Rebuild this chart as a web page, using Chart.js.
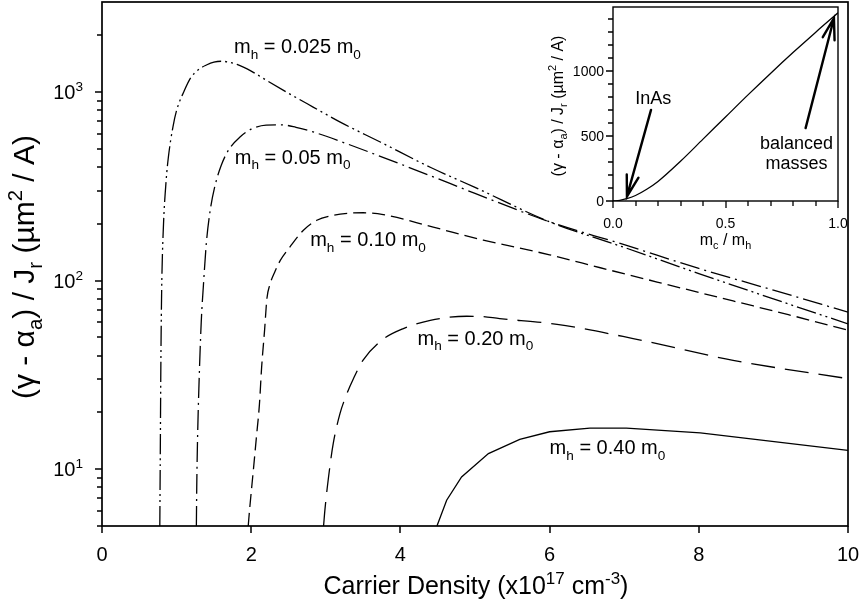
<!DOCTYPE html>
<html>
<head>
<meta charset="utf-8">
<script src="https://cdn.jsdelivr.net/npm/chart.js@4.4.0/dist/chart.umd.min.js"></script>
<style>
  html, body { margin: 0; padding: 0; background: #fff; }
  #wrap { position: relative; width: 866px; height: 609px; }
  #main { position: absolute; left: 0; top: 0; }
  #inset { position: absolute; left: 540px; top: 0; }
</style>
</head>
<body>
<div id="wrap">
  <canvas id="main" width="866" height="609"></canvas>
  <canvas id="inset" width="308" height="250"></canvas>
</div>
<script>
// carrier density (x1e17 cm^-3) and gain/current, one pair of arrays per hole mass
const m0025x = [0.775, 0.78, 0.79, 0.80, 0.82, 0.86, 0.89, 0.95, 1.0, 1.1, 1.18, 1.3, 1.4, 1.5, 1.6, 1.7, 1.81, 2.0, 2.21, 2.5, 2.83, 3.2, 3.73, 4.4, 5, 6, 7, 8, 9, 10];
const m0025y = [5, 10, 40, 90, 180, 340, 452, 650, 799, 1010, 1175, 1320, 1390, 1440, 1455, 1440, 1400, 1290, 1150, 985, 832, 690, 543, 399, 312, 205, 150, 109, 80, 59];

const m005x = [1.265, 1.27, 1.28, 1.30, 1.33, 1.36, 1.40, 1.45, 1.51, 1.6, 1.7, 1.85, 2.0, 2.2, 2.4, 2.6, 2.83, 3.28, 3.73, 4.4, 5, 6, 7, 8, 9, 10];
const m005y = [5, 8, 14, 28, 60, 95, 160, 235, 313, 410, 495, 577, 635, 668, 670, 650, 614, 532, 456, 360, 290, 205, 155, 116, 89, 68];

const m010x = [1.96, 1.98, 2.03, 2.07, 2.11, 2.14, 2.18, 2.21, 2.25, 2.32, 2.39, 2.52, 2.7, 2.88, 3.1, 3.32, 3.5, 3.77, 4.44, 5.11, 6.0, 6.68, 7.5, 8.46, 9.2, 10];
const m010y = [5, 6.2, 10, 14.8, 22, 34.8, 55, 80, 95, 112, 128, 151, 185, 209, 222, 228, 229, 224, 192, 164, 137, 117, 97, 78, 66, 54.6];

const m020x = [2.97, 2.99, 3.05, 3.10, 3.19, 3.28, 3.37, 3.50, 3.75, 4.04, 4.40, 4.89, 5.07, 5.33, 6.10, 7.12, 8.46, 10];
const m020y = [5, 6.2, 10, 13.7, 19.7, 25, 30.2, 37.9, 48.3, 55.7, 61.6, 64.7, 64.6, 62.9, 58.6, 49.3, 37.8, 30.2];

const m040x = [4.49, 4.62, 4.82, 5.18, 5.60, 6.0, 6.54, 7.03, 8.02, 10];
const m040y = [5, 6.85, 9.1, 12.1, 14.4, 15.8, 16.5, 16.5, 15.6, 12.6];

const massLabels = ['0.025', '0.05', '0.10', '0.20', '0.40'];

// main axis ticks
const xTicks = [0, 2, 4, 6, 8, 10];
const yMajor = [10, 100, 1000];
const yMinor = [5, 6, 7, 8, 9, 20, 30, 40, 50, 60, 70, 80, 90, 200, 300, 400, 500, 600, 700, 800, 900, 2000];

// inset: peak value vs mass ratio
const insetX = [0, 0.03, 0.06, 0.1, 0.15, 0.2, 0.3, 0.4, 0.5, 0.6, 0.7, 0.8, 0.9, 1.0];
const insetY = [0, 5, 18, 42, 90, 150, 305, 475, 645, 815, 980, 1140, 1295, 1445];
const insetXMajor = [0, 0.5, 1];
const insetXMinor = [0.1, 0.2, 0.3, 0.4, 0.6, 0.7, 0.8, 0.9];
const insetYMajor = [0, 500, 1000];
const insetYMinor = [100, 200, 300, 400, 600, 700, 800, 900, 1100, 1200, 1300, 1400];

const FONT = '"Liberation Sans", Arial, Helvetica, sans-serif';

// ---- rich text (sub / superscripts) ----
function partSize(k, size) { return k === 'n' ? size : size * 0.68; }
function richWidth(ctx, parts, size) {
  let w = 0;
  parts.forEach(([t, k]) => {
    ctx.font = partSize(k, size) + 'px ' + FONT;
    w += ctx.measureText(t).width;
  });
  return w;
}
function drawRich(ctx, parts, x, y, size, align) {
  const w = richWidth(ctx, parts, size);
  let cx = align === 'center' ? x - w / 2 : align === 'right' ? x - w : x;
  ctx.textAlign = 'left';
  ctx.textBaseline = 'alphabetic';
  ctx.fillStyle = '#000';
  parts.forEach(([t, k]) => {
    const s = partSize(k, size);
    const dy = k === 'sub' ? size * 0.28 : k === 'sup' ? -size * 0.4 : 0;
    ctx.font = s + 'px ' + FONT;
    ctx.fillText(t, cx, y + dy);
    cx += ctx.measureText(t).width;
  });
}
function drawRichRotated(ctx, parts, cx, cy, size) {
  ctx.save();
  ctx.translate(cx, cy);
  ctx.rotate(-Math.PI / 2);
  drawRich(ctx, parts, 0, size * 0.36, size, 'center');
  ctx.restore();
}

// ---- frame, ticks, labels and notes drawn with the chart scales ----
const framePlugin = {
  id: 'frame',
  afterDraw(chart, args, o) {
    const ctx = chart.ctx;
    const { left, right, top, bottom } = chart.chartArea;
    const xs = chart.scales.x, ys = chart.scales.y;
    ctx.save();
    ctx.strokeStyle = '#000';
    ctx.lineWidth = o.boxWidth;
    ctx.strokeRect(left, top, right - left, bottom - top);
    ctx.lineWidth = o.tickWidth;
    ctx.beginPath();
    o.xMajor.forEach(v => { const p = Math.round(xs.getPixelForValue(v)); ctx.moveTo(p, bottom); ctx.lineTo(p, bottom + o.majorLen); });
    (o.xMinor || []).forEach(v => { const p = Math.round(xs.getPixelForValue(v)); ctx.moveTo(p, bottom); ctx.lineTo(p, bottom + o.minorLen); });
    o.yMajor.forEach(v => { const p = Math.round(ys.getPixelForValue(v)); ctx.moveTo(left, p); ctx.lineTo(left - o.majorLen, p); });
    (o.yMinor || []).forEach(v => { const p = Math.round(ys.getPixelForValue(v)); ctx.moveTo(left, p); ctx.lineTo(left - o.minorLen, p); });
    ctx.stroke();

    ctx.fillStyle = '#000';
    ctx.font = o.tickFont + 'px ' + FONT;
    ctx.textAlign = 'center';
    ctx.textBaseline = 'alphabetic';
    o.xMajor.forEach(v => ctx.fillText(o.xFmt(v), xs.getPixelForValue(v), bottom + o.xLabelDy));
    o.yMajor.forEach(v => drawRich(ctx, o.yFmt(v), left - o.yLabelDx, ys.getPixelForValue(v) + o.tickFont * 0.36, o.tickFont, 'right'));

    drawRich(ctx, o.xTitle, (left + right) / 2 + o.xTitleDx, bottom + o.xTitleDy, o.titleFont, 'center');
    drawRichRotated(ctx, o.yTitle, left - o.yTitleDx, (top + bottom) / 2 + o.yTitleDy, o.yTitleFont || o.titleFont);

    (o.notes || []).forEach(n => {
      drawRich(ctx, n.parts, xs.getPixelForValue(n.x), ys.getPixelForValue(n.y), n.size, n.align);
    });

    (o.arrows || []).forEach(a => {
      const x1 = xs.getPixelForValue(a.from[0]), y1 = ys.getPixelForValue(a.from[1]);
      const x2 = xs.getPixelForValue(a.to[0]), y2 = ys.getPixelForValue(a.to[1]);
      const ang = Math.atan2(y1 - y2, x1 - x2);
      const L = 22, h = 0.28;
      ctx.lineWidth = 2.4;
      ctx.lineCap = 'round';
      ctx.beginPath();
      ctx.moveTo(x1, y1); ctx.lineTo(x2, y2);
      ctx.moveTo(x2 + L * Math.cos(ang + h), y2 + L * Math.sin(ang + h));
      ctx.lineTo(x2, y2);
      ctx.lineTo(x2 + L * Math.cos(ang - h), y2 + L * Math.sin(ang - h));
      ctx.stroke();
    });
    ctx.restore();
  }
};

const yTitleParts = [['(γ - α', 'n'], ['a', 'sub'], [') / J', 'n'], ['r', 'sub'], [' (µm', 'n'], ['2', 'sup'], [' / A)', 'n']];
const supDigits = { 10: '1', 100: '2', 1000: '3' };

function massNote(mass, x, y) {
  return { parts: [['m', 'n'], ['h', 'sub'], [' = ' + mass + ' m', 'n'], ['0', 'sub']], x: x, y: y, size: 20, align: 'left' };
}

const series = [
  { xs: m0025x, ys: m0025y, dash: [20, 4, 2, 4, 2, 4], tension: 0.3 },
  { xs: m005x, ys: m005y, dash: [20, 5, 2, 5], tension: 0.3 },
  { xs: m010x, ys: m010y, dash: [13, 6], tension: 0.3 },
  { xs: m020x, ys: m020y, dash: [24, 10], tension: 0.3 },
  { xs: m040x, ys: m040y, dash: [], tension: 0 }
];

new Chart(document.getElementById('main'), {
  type: 'line',
  data: {
    datasets: series.map((s, i) => ({
      label: massLabels[i],
      data: s.xs.map((x, j) => ({ x: x, y: s.ys[j] })),
      borderColor: '#000',
      borderWidth: 1.3,
      borderDash: s.dash,
      pointRadius: 0,
      fill: false,
      tension: s.tension,
      cubicInterpolationMode: s.tension ? 'monotone' : 'default'
    }))
  },
  options: {
    responsive: false,
    animation: false,
    events: [],
    layout: { padding: { left: 102, right: 18, top: 2, bottom: 83 } },
    scales: {
      x: { type: 'linear', min: 0, max: 10, display: false },
      y: { type: 'logarithmic', min: 5, max: 3000, display: false }
    },
    plugins: {
      legend: { display: false },
      tooltip: { enabled: false },
      frame: {
        boxWidth: 1.7, tickWidth: 1.5, majorLen: 7, minorLen: 5,
        xMajor: xTicks, yMajor: yMajor, yMinor: yMinor,
        tickFont: 20, xLabelDy: 35, yLabelDx: 19,
        xFmt: v => String(v),
        yFmt: v => [['10', 'n'], [supDigits[v], 'sup']],
        titleFont: 25, xTitleDx: 1, xTitleDy: 68,
        xTitle: [['Carrier Density (x10', 'n'], ['17', 'sup'], [' cm', 'n'], ['-3', 'sup'], [')', 'n']],
        yTitle: yTitleParts, yTitleFont: 30, yTitleDx: 79, yTitleDy: 3,
        notes: [
          massNote(massLabels[0], 1.77, 1600),
          massNote(massLabels[1], 1.78, 417),
          massNote(massLabels[2], 2.79, 152),
          massNote(massLabels[3], 4.23, 45.8),
          massNote(massLabels[4], 6.0, 11.97)
        ]
      }
    }
  },
  plugins: [framePlugin]
});

new Chart(document.getElementById('inset'), {
  type: 'line',
  data: {
    datasets: [{
      data: insetX.map((x, j) => ({ x: x, y: insetY[j] })),
      borderColor: '#000',
      borderWidth: 1.3,
      pointRadius: 0,
      fill: false,
      tension: 0.3,
      cubicInterpolationMode: 'monotone'
    }]
  },
  options: {
    responsive: false,
    animation: false,
    events: [],
    layout: { padding: { left: 73, right: 10, top: 7, bottom: 49 } },
    scales: {
      x: { type: 'linear', min: 0, max: 1, display: false },
      y: { type: 'linear', min: 0, max: 1490, display: false }
    },
    plugins: {
      legend: { display: false },
      tooltip: { enabled: false },
      frame: {
        boxWidth: 1.4, tickWidth: 1.3, majorLen: 7, minorLen: 5,
        xMajor: insetXMajor, xMinor: insetXMinor, yMajor: insetYMajor, yMinor: insetYMinor,
        tickFont: 14, xLabelDy: 27, yLabelDx: 9,
        xFmt: v => v.toFixed(1),
        yFmt: v => [[String(v), 'n']],
        titleFont: 16, xTitleDx: 0, xTitleDy: 44,
        xTitle: [['m', 'n'], ['c', 'sub'], [' / m', 'n'], ['h', 'sub']],
        yTitle: yTitleParts, yTitleFont: 16, yTitleDx: 56, yTitleDy: 2,
        notes: [
          { parts: [['InAs', 'n']], x: 0.179, y: 745, size: 18, align: 'center' },
          { parts: [['balanced', 'n']], x: 0.816, y: 400, size: 18, align: 'center' },
          { parts: [['masses', 'n']], x: 0.816, y: 246, size: 18, align: 'center' }
        ],
        arrows: [
          { from: [0.169, 700], to: [0.062, 35] },
          { from: [0.856, 560], to: [0.982, 1404] }
        ]
      }
    }
  },
  plugins: [framePlugin]
});
</script>
</body>
</html>
